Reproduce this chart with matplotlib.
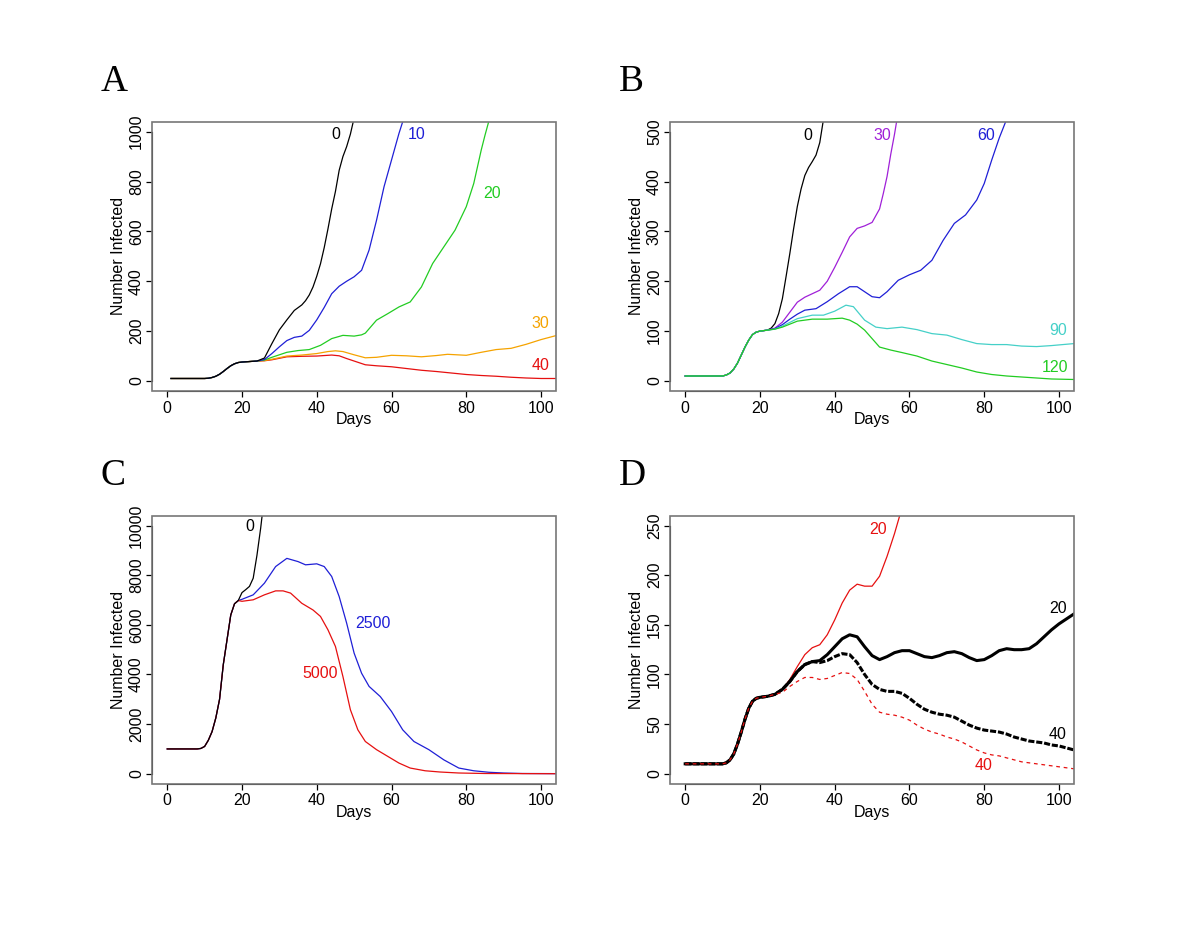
import numpy as np
import matplotlib
matplotlib.use('Agg')
import matplotlib.pyplot as plt
from matplotlib.patches import Rectangle

plt.rcParams['font.family'] = ['Liberation Sans', 'DejaVu Sans']

# ---------------- Panel A ----------------
a_early_d = [1, 4, 8, 10, 11, 12, 13, 14, 15, 16, 17, 18, 19, 20, 22, 24]
a_early_v = [10, 10, 10, 10, 11, 14, 19, 27, 38, 50, 61, 69, 74, 76, 78, 80]

a0_d = [26, 28, 30, 32, 34, 36, 37, 38, 39, 40, 41, 42, 43, 44, 45, 46, 47, 48, 49, 50, 51]
a0_v = [92, 150, 205, 245, 283, 305, 322, 345, 377, 420, 470, 535, 610, 690, 760, 845, 900, 940, 990, 1055, 1130]
a10_d = [26, 28, 30, 32, 34, 36, 38, 40, 42, 44, 46, 48, 50, 52, 54, 56, 58, 60, 62, 63, 64]
a10_v = [86, 110, 137, 162, 175, 180, 203, 245, 295, 350, 380, 400, 418, 444, 525, 645, 779, 886, 993, 1040, 1100]
a20_d = [26, 28, 30, 32, 35, 38, 41, 44, 47, 50, 52, 53, 56, 59, 62, 65, 68, 71, 74, 77, 80, 82, 84, 85, 86, 87]
a20_v = [84, 95, 105, 115, 122, 126, 143, 170, 183, 180, 185, 192, 244, 270, 297, 317, 377, 471, 538, 605, 699, 792, 926, 985, 1040, 1100]
a30_d = [26, 28, 32, 36, 40, 43, 45, 47, 50, 53, 56, 60, 64, 68, 72, 75, 80, 84, 88, 92, 96, 100, 104]
a30_v = [82, 87, 100, 104, 110, 118, 121, 118, 105, 93, 95, 103, 101, 97, 102, 107, 103, 115, 126, 131, 147, 166, 182]
a40_d = [26, 28, 32, 36, 40, 44, 46, 48, 50, 53, 56, 60, 64, 68, 72, 76, 80, 84, 88, 92, 96, 100, 104]
a40_v = [81, 85, 97, 99, 100, 104, 101, 90, 80, 65, 61, 57, 50, 43, 38, 32, 26, 22, 19, 15, 12, 10, 10]

# ---------------- Panel B ----------------
b_early_d = [0, 4, 8, 10, 11, 12, 13, 14, 15, 16, 17, 18, 19, 20, 22]
b_early_v = [10, 10, 10, 10, 12, 16, 24, 36, 52, 68, 82, 93, 98, 100, 102]

b0_d = [23, 24, 25, 26, 27, 28, 29, 30, 31, 32, 33, 34, 35, 36, 37]
b0_v = [106, 115, 135, 165, 210, 256, 305, 350, 385, 412, 428, 440, 453, 478, 525]
b30_d = [24, 26, 28, 30, 32, 34, 36, 38, 40, 42, 44, 46, 48, 50, 52, 53, 54, 55, 56, 57]
b30_v = [106, 118, 138, 158, 168, 175, 182, 200, 228, 258, 289, 306, 311, 318, 345, 376, 410, 455, 495, 540]
b60_d = [24, 26, 28, 30, 32, 35, 38, 41, 44, 46, 48, 50, 52, 54, 57, 60, 63, 66, 69, 72, 75, 78, 80, 82, 84, 86]
b60_v = [105, 113, 124, 134, 142, 145, 159, 175, 189, 189, 179, 169, 167, 179, 202, 213, 222, 242, 282, 316, 333, 363, 396, 443, 487, 525]
b90_d = [24, 26, 30, 34, 37, 40, 43, 45, 48, 51, 54, 58, 62, 66, 70, 74, 78, 82, 86, 90, 94, 98, 104]
b90_v = [104, 110, 125, 132, 132, 140, 152, 149, 122, 108, 105, 108, 103, 95, 92, 83, 75, 73, 73, 70, 69, 71, 75]
b120_d = [24, 26, 30, 34, 38, 42, 44, 46, 48, 50, 52, 55, 58, 62, 66, 70, 74, 78, 82, 86, 90, 94, 98, 104]
b120_v = [104, 108, 120, 124, 124, 126, 122, 114, 102, 85, 68, 62, 57, 50, 40, 33, 26, 18, 13, 10, 8, 6, 4, 3]

# ---------------- Panel C ----------------
c_early_d = [0, 4, 8, 9, 10, 11, 12, 13, 14, 15, 16, 17, 18, 19]
c_early_v = [1000, 1000, 1000, 1020, 1100, 1350, 1700, 2250, 3000, 4400, 5400, 6400, 6850, 6980]

c0_d = [20, 21, 22, 23, 24, 25, 26]
c0_v = [7300, 7420, 7550, 7880, 8800, 9900, 11200]
c2500_d = [20, 23, 26, 29, 32, 35, 37, 40, 42, 44, 46, 48, 50, 52, 54, 57, 60, 63, 66, 70, 74, 78, 82, 86, 90, 95, 104]
c2500_v = [7030, 7210, 7680, 8350, 8680, 8550, 8420, 8460, 8350, 7950, 7140, 6070, 4860, 4050, 3520, 3110, 2510, 1770, 1300, 970, 560, 230, 120, 60, 30, 10, 5]
c5000_d = [20, 23, 26, 29, 31, 33, 36, 39, 41, 43, 45, 47, 49, 51, 53, 56, 59, 62, 65, 69, 73, 78, 85, 104]
c5000_v = [6950, 7010, 7210, 7370, 7370, 7280, 6870, 6600, 6340, 5800, 5130, 3920, 2580, 1770, 1300, 970, 700, 430, 230, 120, 70, 30, 10, 2]

# ---------------- Panel D ----------------
d_early_d = [0, 4, 8, 10, 11, 12, 13, 14, 15, 16, 17, 18, 19, 20, 22, 24]
d_early_v = [10, 10, 10, 10, 11, 14, 20, 30, 42, 55, 66, 73, 76, 77, 78, 80]

d_red20_d = [26, 28, 30, 32, 34, 36, 38, 40, 42, 44, 46, 48, 50, 52, 54, 56, 58]
d_red20_v = [85, 95, 108, 120, 127, 130, 140, 155, 172, 185, 191, 189, 189, 199, 219, 242, 268]
d_blk20_d = [26, 28, 30, 32, 34, 36, 38, 40, 42, 44, 46, 48, 50, 52, 54, 56, 58, 60, 62, 64, 66, 68, 70,
             72, 74, 76, 78, 80, 82, 84, 86, 88, 90, 92, 94, 96, 98, 100, 102, 104]
d_blk20_v = [85, 93, 103, 110, 113, 114, 120, 128, 136, 140, 138, 128, 119, 115, 118, 122, 124, 124, 121, 118, 117, 119, 122,
             123, 121, 117, 114, 115, 119, 124, 126, 125, 125, 126, 131, 138, 145, 151, 156, 161]
d_blk40_d = [26, 28, 30, 32, 34, 36, 38, 40, 42, 44, 46, 48, 50, 52, 54, 56, 58, 60, 62, 64, 66, 68, 70,
             72, 74, 76, 78, 80, 82, 84, 86, 88, 90, 92, 94, 96, 98, 100, 102, 104]
d_blk40_v = [85, 93, 103, 110, 113, 112, 114, 118, 121, 120, 112, 100, 90, 85, 83, 83, 81, 76, 70, 65, 62, 60, 59,
             57, 53, 49, 46, 44, 43, 42, 40, 37, 35, 33, 32, 31, 29, 28, 26, 24]
d_red40_d = [26, 28, 30, 32, 34, 36, 38, 40, 42, 44, 46, 48, 50, 52, 54, 56, 58, 60, 62, 64, 66, 68, 70,
             72, 74, 76, 78, 80, 82, 84, 86, 88, 90, 92, 94, 96, 98, 100, 104]
d_red40_v = [82, 88, 93, 97, 97, 95, 96, 99, 102, 101, 95, 83, 70, 62, 60, 59, 57, 54, 49, 45, 42, 40, 37,
             35, 32, 28, 24, 21, 19, 18, 16, 14, 12, 11, 10, 9, 8, 7, 5]

BLUE = '#1f1fd6'
GREEN = '#22cc22'
ORANGE = '#f5a300'
RED = '#e61010'
PURPLE = '#a020d8'
TURQ = '#45d0c8'
FS = 11.5


def series(early_d, early_v, d, v):
    return early_d + d, early_v + v


def setup(ax, ylim, yticks, letter):
    ax.set_xlim(-4, 104)
    ax.set_ylim(*ylim)
    for s in ['top', 'right', 'left', 'bottom']:
        ax.spines[s].set_visible(False)
    # R style: grey box, black axis lines between first and last tick
    ax.add_patch(Rectangle((0, 0), 1, 1, transform=ax.transAxes, fill=False,
                           edgecolor='#777777', lw=1.2, clip_on=False, zorder=5))
    ax.spines['bottom'].set_visible(True)
    ax.spines['left'].set_visible(True)
    ax.spines['bottom'].set_bounds(0, 100)
    ax.spines['left'].set_bounds(yticks[0], yticks[-1])
    ax.spines['bottom'].set_color('black')
    ax.spines['left'].set_color('black')
    ax.set_xticks([0, 20, 40, 60, 80, 100])
    ax.set_yticks(yticks)
    ax.tick_params(direction='out', length=4.5, width=0.9, labelsize=FS, pad=2.5)
    ax.tick_params(axis='y', labelrotation=90, pad=1.5)
    for lab in ax.get_yticklabels():
        lab.set_va('center')
    ax.set_xlabel('Days', fontsize=FS)
    ax.set_ylabel('Number Infected', fontsize=FS)
    ax.xaxis.set_label_coords(0.5, -0.08)
    ax.yaxis.set_label_coords(-0.064, 0.5)
    ax.text(-0.128, 1.113, letter, transform=ax.transAxes, fontsize=27,
            family='Liberation Serif', ha='left', va='baseline')


fig = plt.figure(figsize=(11.99, 9.26), dpi=100)
axA = fig.add_axes([0.127, 0.5778, 0.3367, 0.2908])
axB = fig.add_axes([0.559, 0.5778, 0.3367, 0.2908])
axC = fig.add_axes([0.127, 0.1537, 0.3367, 0.2894])
axD = fig.add_axes([0.559, 0.1537, 0.3367, 0.2894])

lw = 0.9

# A
ax = axA
for d, v, c in [(a40_d, a40_v, RED), (a30_d, a30_v, ORANGE), (a20_d, a20_v, GREEN),
                (a10_d, a10_v, BLUE), (a0_d, a0_v, 'black')]:
    x, y = series(a_early_d, a_early_v, d, v)
    ax.plot(x, y, color=c, lw=lw)
setup(ax, (-40, 1040), [0, 200, 400, 600, 800, 1000], 'A')
ax.text(45, 987, '0', color='black', ha='center', va='center', fontsize=FS)
ax.text(66.7, 987, '10', color=BLUE, ha='center', va='center', fontsize=FS)
ax.text(87, 752, '20', color=GREEN, ha='center', va='center', fontsize=FS)
ax.text(99.9, 230, '30', color=ORANGE, ha='center', va='center', fontsize=FS)
ax.text(99.9, 63, '40', color=RED, ha='center', va='center', fontsize=FS)

# B
ax = axB
for d, v, c in [(b0_d, b0_v, 'black'), (b30_d, b30_v, PURPLE), (b60_d, b60_v, BLUE),
                (b90_d, b90_v, TURQ), (b120_d, b120_v, GREEN)]:
    x, y = series(b_early_d, b_early_v, d, v)
    ax.plot(x, y, color=c, lw=lw)
setup(ax, (-20, 520), [0, 100, 200, 300, 400, 500], 'B')
ax.text(32.7, 493, '0', color='black', ha='center', va='center', fontsize=FS)
ax.text(52.8, 493, '30', color=PURPLE, ha='center', va='center', fontsize=FS)
ax.text(80.6, 493, '60', color=BLUE, ha='center', va='center', fontsize=FS)
ax.text(99.7, 102, '90', color=TURQ, ha='center', va='center', fontsize=FS)
ax.text(98.8, 28, '120', color=GREEN, ha='center', va='center', fontsize=FS)

# C
ax = axC
for d, v, c in [(c2500_d, c2500_v, BLUE), (c5000_d, c5000_v, RED), (c0_d, c0_v, 'black')]:
    x, y = series(c_early_d, c_early_v, d, v)
    ax.plot(x, y, color=c, lw=lw)
setup(ax, (-400, 10400), [0, 2000, 4000, 6000, 8000, 10000], 'C')
ax.text(22, 9960, '0', color='black', ha='center', va='center', fontsize=FS)
ax.text(54.9, 6040, '2500', color=BLUE, ha='center', va='center', fontsize=FS)
ax.text(41, 4030, '5000', color=RED, ha='center', va='center', fontsize=FS)

# D
ax = axD
x, y = series(d_early_d, d_early_v, d_red20_d, d_red20_v)
ax.plot(x, y, color=RED, lw=lw)
x, y = series(d_early_d, d_early_v, d_blk40_d, d_blk40_v)
ax.plot(x, y, color='black', lw=2.2, dashes=(2.0, 0.6))
x, y = series(d_early_d, d_early_v, d_blk20_d, d_blk20_v)
ax.plot(x, y, color='black', lw=2.2)
x, y = series(d_early_d, d_early_v, d_red40_d, d_red40_v)
ax.plot(x, y, color=RED, lw=lw, dashes=(3, 3))
setup(ax, (-10, 260), [0, 50, 100, 150, 200, 250], 'D')
ax.text(51.6, 246, '20', color=RED, ha='center', va='center', fontsize=FS)
ax.text(99.7, 166, '20', color='black', ha='center', va='center', fontsize=FS)
ax.text(99.7, 40, '40', color='black', ha='center', va='center', fontsize=FS)
ax.text(79.7, 8, '40', color=RED, ha='center', va='center', fontsize=FS)

fig.savefig('out.png', dpi=100, facecolor='white')
